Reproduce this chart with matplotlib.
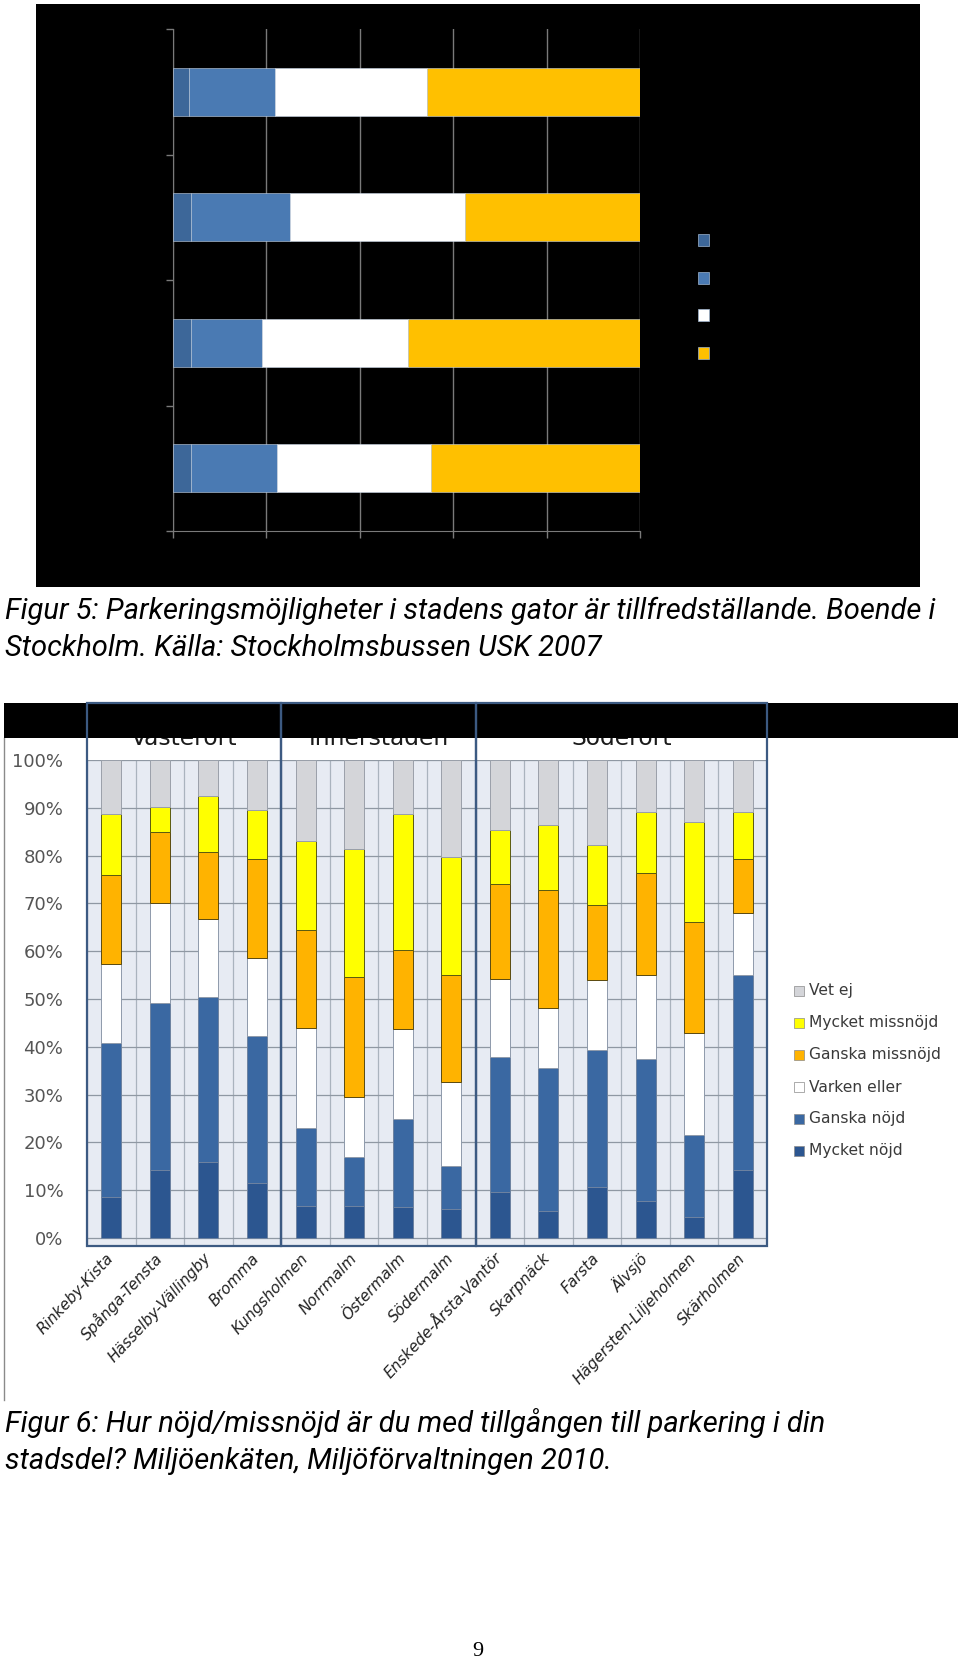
import matplotlib
matplotlib.use("Agg")
import matplotlib.pyplot as plt
from matplotlib.patches import Rectangle
from matplotlib.lines import Line2D
import matplotlib.transforms as mtransforms
import numpy as np
import logging
logging.getLogger("matplotlib.font_manager").setLevel(logging.ERROR)

# ---------------- data: figure 5 (top, labels are black on black) ----------------
top_categories = ["Kategori 1", "Kategori 2", "Kategori 3", "Kategori 4"]
top_series_names = ["Serie 1", "Serie 2", "Serie 3", "Serie 4"]
top_dark = [3.4, 3.9, 3.9, 3.9]
top_blue = [18.4, 21.2, 15.2, 18.3]
top_white = [32.5, 37.5, 31.3, 33.0]
top_gold = [45.7, 37.4, 49.6, 44.8]
top_xticks = [0, 20, 40, 60, 80, 100]

# ---------------- data: figure 6 (bottom) ----------------
districts = ["Rinkeby-Kista", "Spånga-Tensta", "Hässelby-Vällingby", "Bromma",
             "Kungsholmen", "Norrmalm", "Östermalm", "Södermalm",
             "Enskede-Årsta-Vantör", "Skarpnäck", "Farsta", "Älvsjö",
             "Hägersten-Liljeholmen", "Skärholmen"]
groups = ["Västerort", "Innerstaden", "Söderort"]
group_sizes = [4, 4, 6]
mycket_nojd = [8.5, 14.1, 15.8, 11.5, 6.6, 6.6, 6.4, 6.1, 9.6, 5.6, 10.7, 7.7, 4.3, 14.1]
ganska_nojd = [32.2, 35.1, 34.6, 30.7, 16.3, 10.3, 18.5, 8.9, 28.3, 30.0, 28.7, 29.8, 17.3, 41.0]
varken_eller = [16.7, 20.8, 16.3, 16.3, 21.1, 12.5, 18.8, 17.6, 16.3, 12.4, 14.6, 17.6, 21.3, 12.8]
ganska_missnojd = [18.5, 15.0, 14.0, 20.8, 20.4, 25.1, 16.6, 22.5, 19.8, 24.9, 15.7, 21.2, 23.2, 11.4]
mycket_missnojd = [12.7, 5.1, 11.8, 10.2, 18.6, 26.9, 28.3, 24.5, 11.4, 13.5, 12.5, 12.8, 20.9, 9.8]
vet_ej = [11.4, 9.9, 7.5, 10.5, 17.0, 18.6, 11.4, 20.4, 14.6, 13.6, 17.8, 10.9, 13.0, 10.9]
series_labels = ["Mycket nöjd", "Ganska nöjd", "Varken eller",
                 "Ganska missnöjd", "Mycket missnöjd", "Vet ej"]
yticks_bottom = [0, 10, 20, 30, 40, 50, 60, 70, 80, 90, 100]

caption5 = ["Figur 5: Parkeringsmöjligheter i stadens gator är tillfredställande. Boende i",
            "Stockholm. Källa: Stockholmsbussen USK 2007"]
caption6 = ["Figur 6: Hur nöjd/missnöjd är du med tillgången till parkering i din",
            "stadsdel? Miljöenkäten, Miljöförvaltningen 2010."]
page_number = "9"

# ---------------- layout helpers (pixel coords, origin top-left) ----------------
W, H = 960, 1666
fig = plt.figure(figsize=(W / 100, H / 100), dpi=100)
fig.patch.set_facecolor("white")


def rect(x0, y0, x1, y1):
    return [x0 / W, 1 - y1 / H, (x1 - x0) / W, (y1 - y0) / H]


def fy(y):
    return 1 - y / H


def fig_rect(x0, y0, x1, y1, **kw):
    r = Rectangle((x0 / W, 1 - y1 / H), (x1 - x0) / W, (y1 - y0) / H,
                  transform=fig.transFigure, **kw)
    fig.add_artist(r)
    return r


# ================= Figure 5 =================
fig_rect(36, 4, 920, 587, facecolor="black", edgecolor="none", zorder=0.5)
ax1 = fig.add_axes(rect(173, 29, 640, 531))
ax1.set_facecolor("black")
ax1.set_zorder(1)
top_colors = ["#3d6799", "#4a7ab3", "#ffffff", "#ffc000"]
ypos = np.arange(len(top_categories))
left = np.zeros(len(top_categories))
for vals, col in zip([top_dark, top_blue, top_white, top_gold], top_colors):
    ax1.barh(ypos, vals, left=left, height=0.38, color=col,
             edgecolor="#c9d6e6", linewidth=0.4, zorder=3)
    left += np.array(vals)
ax1.set_xlim(0, 100)
ax1.set_ylim(len(top_categories) - 0.5, -0.5)
ax1.set_xticks(top_xticks)
ax1.set_xticklabels([""] * len(top_xticks))
ax1.set_yticks(np.arange(len(top_categories) + 1) - 0.5)
ax1.set_yticklabels([""] * (len(top_categories) + 1))
ax1.grid(axis="x", color="#7a7a7a", linewidth=1.0, zorder=1)
ax1.tick_params(axis="both", colors="#7a7a7a", length=5, width=1)
for s in ["top", "right"]:
    ax1.spines[s].set_visible(False)
for s in ["left", "bottom"]:
    ax1.spines[s].set_color("#7a7a7a")

# top legend (text is black on black)
for i, (name, col) in enumerate(zip(top_series_names, top_colors)):
    yc = 240 + i * 37.7
    fig_rect(698, yc - 6, 709, yc + 6, facecolor=col, edgecolor="#9fb5cf",
             linewidth=0.5, zorder=2)
    fig.text(715 / W, fy(yc), name, color="black", fontsize=11, va="center", zorder=1.5)

# ================= Figure 6 =================
ax2 = fig.add_axes(rect(87, 760, 767, 1246))
ax2.set_facecolor("#e7ebf3")
ax2.set_zorder(1)
n = len(districts)
x = np.arange(n)
bottom_colors = ["#2c5690", "#3a68a2", "#ffffff", "#ffb300", "#ffff00", "#d4d5d9"]
edge_colors = ["#6d82a0", "#6d82a0", "#8e9aab", "#5a4a10", "#5a5a10", "#9aa0aa"]
base = np.zeros(n)
for vals, col, ec in zip([mycket_nojd, ganska_nojd, varken_eller, ganska_missnojd,
                          mycket_missnojd, vet_ej], bottom_colors, edge_colors):
    ax2.bar(x, vals, bottom=base, width=0.41, color=col, edgecolor=ec,
            linewidth=0.7, zorder=3)
    base += np.array(vals)
ax2.set_xlim(-0.5, n - 0.5)
ax2.set_ylim(-1.7, 100)
ax2.set_yticks(yticks_bottom)
ax2.set_yticklabels([f"{v}%" for v in yticks_bottom], color="#555555", fontsize=13)
ax2.set_xticks(x)
ax2.set_xticks(np.arange(n + 1) - 0.5, minor=True)
ax2.set_xticklabels(districts, rotation=47, ha="right", va="center",
                    rotation_mode="anchor", fontsize=11, fontstyle="italic", color="#222222")
ax2.tick_params(axis="y", length=0, pad=17)
ax2.tick_params(axis="x", which="major", length=0, pad=7)
ax2.tick_params(axis="x", which="minor", length=0)
ax2.grid(axis="y", color="#8f98a3", linewidth=0.9, zorder=1)
ax2.grid(axis="x", which="minor", color="#aab3be", linewidth=0.9, zorder=1)
for s in ax2.spines.values():
    s.set_visible(False)

# group boxes, labels and black band
blend = mtransforms.blended_transform_factory(ax2.transData, fig.transFigure)
start = -0.5
for g, size in zip(groups, group_sizes):
    r = Rectangle((start, 1 - 1246 / H), size, (1246 - 703) / H, transform=blend,
                  facecolor="none", edgecolor="#3c5a82", linewidth=1.6, zorder=12)
    fig.add_artist(r)
    t = fig.text(start + size / 2, 1 - 745 / H, g, transform=blend,
                 fontsize=16.8, ha="center", va="baseline", color="#1a1a1a", zorder=4)
    start += size
fig_rect(4, 703, 958, 738, facecolor="black", edgecolor="none", zorder=10)

# left border line of chart image
fig.add_artist(Line2D([4 / W, 4 / W], [fy(738), fy(1400)], transform=fig.transFigure,
                      color="#8a8a8a", linewidth=1.0))

# bottom legend
for i, (name, col) in enumerate(zip(series_labels[::-1], bottom_colors[::-1])):
    yc = 991 + i * 32
    fig_rect(794, yc - 5, 804, yc + 5, facecolor=col, edgecolor="#8a8a8a",
             linewidth=0.5, zorder=2)
    fig.text(809 / W, fy(yc), name, fontsize=11.2, va="center", ha="left", color="#3a3a3a")

# ================= captions (font size fitted to the reference line width) =================
cap_font = ["Liberation Sans Narrow", "Roboto", "DejaVu Sans"]
cap_texts = []
for i, line in enumerate(caption5):
    cap_texts.append(fig.text(5 / W, fy(611 + i * 37), line, fontsize=18, fontstyle="italic",
                              family=cap_font, va="center", ha="left", color="black"))
for i, line in enumerate(caption6):
    cap_texts.append(fig.text(5 / W, fy(1423 + i * 38), line, fontsize=18, fontstyle="italic",
                              family=cap_font, va="center", ha="left", color="black"))
fig.canvas.draw()
renderer = fig.canvas.get_renderer()
w0 = cap_texts[0].get_window_extent(renderer).width
size = min(22.0, 18 * 928.0 / w0)
for t in cap_texts:
    t.set_fontsize(size)

fig.text(478 / W, fy(1651), page_number, fontsize=16, family=["Liberation Serif", "DejaVu Serif"],
         ha="center", va="center", color="black")

fig.savefig("out.png", dpi=100, facecolor="white")
